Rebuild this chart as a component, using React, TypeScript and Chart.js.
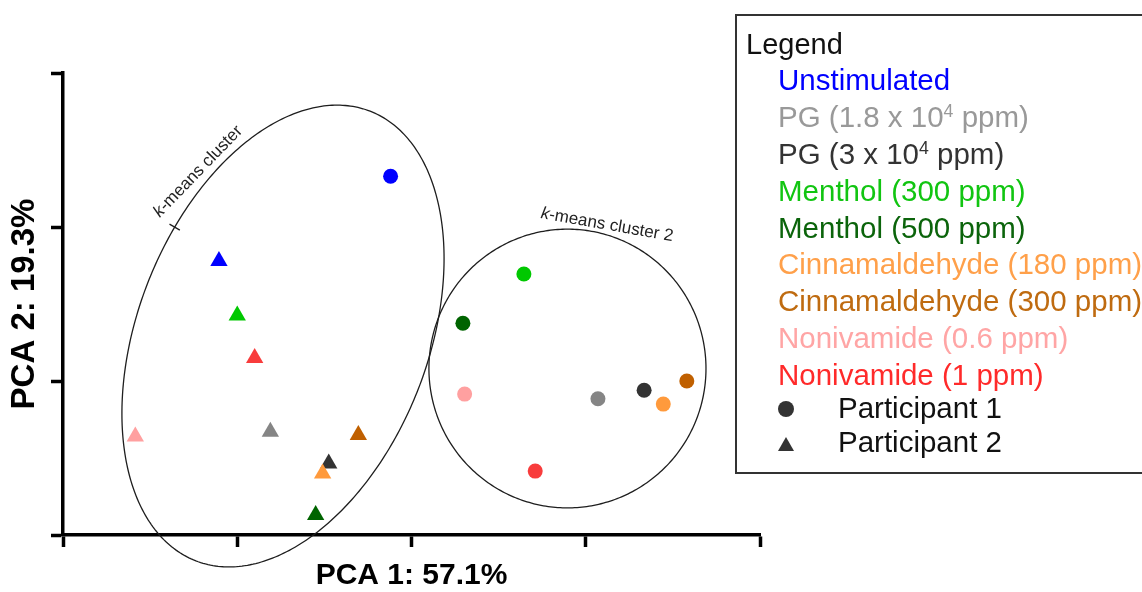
import React, { useEffect, useRef } from 'react';
import { Chart, registerables } from 'chart.js';

Chart.register(...registerables);

// ---------- data ----------
const treatmentLabels = [
  'Unstimulated',
  'PG (1.8 x 10^4 ppm)',
  'PG (3 x 10^4 ppm)',
  'Menthol (300 ppm)',
  'Menthol (500 ppm)',
  'Cinnamaldehyde (180 ppm)',
  'Cinnamaldehyde (300 ppm)',
  'Nonivamide (0.6 ppm)',
  'Nonivamide (1 ppm)',
];
const pointColors = ['#0000FF', '#858585', '#333333', '#00C800', '#006400', '#FF9A3C', '#C06000', '#FFA0A0', '#F83C3C'];
const legendTextColors = ['#0000FF', '#999999', '#333333', '#11C511', '#0B640B', '#FFA04A', '#BF6B10', '#FFA5A5', '#FF2A2A'];

const participantLabels = ['Participant 1', 'Participant 2'];
// Participant 1 (circles)
const participant1X = [-0.24, 2.14, 2.67, 1.29, 0.59, 2.89, 3.16, 0.61, 1.42];
const participant1Y = [2.66, -0.23, -0.12, 1.39, 0.75, -0.3, 0.0, -0.17, -1.17];
// Participant 2 (triangles)
const participant2X = [-2.21, -1.62, -0.95, -2.0, -1.1, -1.02, -0.61, -3.17, -1.8];
const participant2Y = [1.56, -0.66, -1.07, 0.85, -1.74, -1.2, -0.7, -0.72, 0.3];

const xTicks = [-4, -2, 0, 2, 4];
const yTicks = [-2, 0, 2, 4];
const xAxisTitle = 'PCA 1: 57.1%';
const yAxisTitle = 'PCA 2: 19.3%';
const legendTitle = 'Legend';

// k-means cluster ellipses (data units): centre and conjugate semi-axes
const clusterLabels = ['k-means cluster', 'k-means cluster 2'];
const clusterCenterX = [-1.475, 1.79];
const clusterCenterY = [0.584, 0.162];
const clusterAxisU = [[1.0, 2.92], [1.59, 0]];
const clusterAxisV = [[1.555, -0.682], [0, 1.81]];
// label anchors (data units) and rotation
const clusterLabelX = [-2.45, 2.244];
const clusterLabelY = [2.72, 2.026];
const clusterLabelAngle = [-46, 10];

// ---------- styling ----------
const FONT = '"Liberation Sans", Arial, Helvetica, sans-serif';

function ellipsePixel(chart: any, i: number, t: number) {
  const { x, y } = chart.scales;
  const dx = clusterCenterX[i] + clusterAxisU[i][0] * Math.cos(t) + clusterAxisV[i][0] * Math.sin(t);
  const dy = clusterCenterY[i] + clusterAxisU[i][1] * Math.cos(t) + clusterAxisV[i][1] * Math.sin(t);
  return [x.getPixelForValue(dx), y.getPixelForValue(dy)];
}

const clusterPlugin = {
  id: 'clusterEllipses',
  beforeDatasetsDraw(chart: any) {
    const ctx = chart.ctx as CanvasRenderingContext2D;
    const { x, y } = chart.scales;
    ctx.save();
    ctx.strokeStyle = '#1e1e1e';
    ctx.lineWidth = 1.3;
    for (let i = 0; i < clusterCenterX.length; i++) {
      ctx.beginPath();
      const n = 360;
      for (let k = 0; k <= n; k++) {
        const t = (k / n) * Math.PI * 2;
        const [px, py] = ellipsePixel(chart, i, t);
        if (k === 0) ctx.moveTo(px, py);
        else ctx.lineTo(px, py);
      }
      ctx.closePath();
      ctx.stroke();
    }
    // small tick mark on first cluster outline
    const tt = (-75 * Math.PI) / 180;
    const [p0x, p0y] = ellipsePixel(chart, 0, tt);
    const [p1x, p1y] = ellipsePixel(chart, 0, tt + 0.01);
    let tx = p1x - p0x, ty = p1y - p0y;
    const len = Math.hypot(tx, ty);
    tx /= len; ty /= len;
    const nx = -ty, ny = tx;
    ctx.beginPath();
    ctx.moveTo(p0x - nx * 6, p0y - ny * 6);
    ctx.lineTo(p0x + nx * 6, p0y + ny * 6);
    ctx.stroke();

    // labels
    ctx.fillStyle = '#222222';
    for (let i = 0; i < clusterLabels.length; i++) {
      const cx = x.getPixelForValue(clusterLabelX[i]);
      const cy = y.getPixelForValue(clusterLabelY[i]);
      const text = clusterLabels[i];
      ctx.save();
      ctx.translate(cx, cy);
      ctx.rotate((clusterLabelAngle[i] * Math.PI) / 180);
      const italic = `italic 17px ${FONT}`;
      const normal = `17px ${FONT}`;
      ctx.font = italic;
      const wk = ctx.measureText(text[0]).width;
      ctx.font = normal;
      const wr = ctx.measureText(text.slice(1)).width;
      const total = wk + wr;
      ctx.textBaseline = 'middle';
      ctx.textAlign = 'left';
      ctx.font = italic;
      ctx.fillText(text[0], -total / 2, 0);
      ctx.font = normal;
      ctx.fillText(text.slice(1), -total / 2 + wk, 0);
      ctx.restore();
    }
    ctx.restore();
  },
};

function renderLabel(label: string) {
  const idx = label.indexOf('^');
  if (idx < 0) return label;
  return (
    <>
      {label.slice(0, idx)}
      <span style={{ fontSize: '0.6em', position: 'relative', top: '-0.55em', lineHeight: 0 }}>
        {label.slice(idx + 1, idx + 2)}
      </span>
      {label.slice(idx + 2)}
    </>
  );
}

const LEGEND_FS = 29.5;
const BASE_OFF = 24.9; // baseline offset from top for line-height 1

export default function App() {
  const canvasRef = useRef<HTMLCanvasElement | null>(null);

  useEffect(() => {
    if (!canvasRef.current) return;
    const chart = new Chart(canvasRef.current, {
      type: 'scatter',
      data: {
        datasets: [
          {
            label: participantLabels[0],
            data: participant1X.map((v, i) => ({ x: v, y: participant1Y[i] })),
            pointStyle: 'circle',
            pointRadius: 7.5,
            pointBackgroundColor: pointColors,
            pointBorderWidth: 0,
            borderWidth: 0,
          },
          {
            label: participantLabels[1],
            data: participant2X.map((v, i) => ({ x: v, y: participant2Y[i] })),
            pointStyle: 'triangle',
            pointRadius: 10,
            pointBackgroundColor: pointColors,
            pointBorderWidth: 0,
            borderWidth: 0,
          },
        ],
      },
      options: {
        responsive: false,
        animation: false,
        devicePixelRatio: 1,
        layout: { padding: { left: 0, top: 73, right: 382, bottom: 0 } },
        plugins: {
          legend: { display: false },
          tooltip: { enabled: false },
        },
        scales: {
          x: {
            type: 'linear',
            min: xTicks[0],
            max: xTicks[xTicks.length - 1],
            afterBuildTicks: (s: any) => {
              s.ticks = xTicks.map((v) => ({ value: v }));
            },
            afterFit: (s: any) => {
              s.height = 57;
            },
            ticks: { display: false },
            grid: {
              drawOnChartArea: false,
              drawTicks: true,
              tickLength: 12,
              tickWidth: 3.5,
              tickColor: '#000',
            },
            border: { display: true, width: 3.5, color: '#000' },
            title: {
              display: true,
              text: xAxisTitle,
              color: '#000',
              font: { family: FONT, size: 30, weight: 'bold', lineHeight: 1 },
              padding: { top: 0, bottom: 1 },
            },
          },
          y: {
            type: 'linear',
            min: yTicks[0],
            max: yTicks[yTicks.length - 1],
            afterBuildTicks: (s: any) => {
              s.ticks = yTicks.map((v) => ({ value: v }));
            },
            afterFit: (s: any) => {
              s.width = 63;
            },
            ticks: { display: false },
            grid: {
              drawOnChartArea: false,
              drawTicks: true,
              tickLength: 12,
              tickWidth: 3.5,
              tickColor: '#000',
            },
            border: { display: true, width: 3.5, color: '#000' },
            title: {
              display: true,
              text: yAxisTitle,
              color: '#000',
              font: { family: FONT, size: 33, weight: 'bold', lineHeight: 1 },
              padding: { top: 8.5, bottom: 0 },
            },
          },
        },
      } as any,
      plugins: [clusterPlugin],
    });
    return () => chart.destroy();
  }, []);

  const textBase: React.CSSProperties = {
    position: 'absolute',
    fontFamily: FONT,
    fontSize: LEGEND_FS,
    lineHeight: `${LEGEND_FS}px`,
    whiteSpace: 'nowrap',
  };

  return (
    <div
      style={{
        position: 'absolute',
        left: 0,
        top: 0,
        width: 1142,
        height: 592,
        overflow: 'hidden',
        background: '#fff',
      }}
    >
      <canvas ref={canvasRef} width={1142} height={592} style={{ position: 'absolute', left: 0, top: 0 }} />
      <div
        style={{
          position: 'absolute',
          left: 735,
          top: 14,
          width: 480,
          height: 460,
          border: '2px solid #333',
          boxSizing: 'border-box',
        }}
      />
      <div style={{ ...textBase, fontSize: 29, lineHeight: '29px', left: 746, top: 54.5 - 24.5, color: '#111' }}>
        {legendTitle}
      </div>
      {treatmentLabels.map((lab, i) => (
        <div key={lab} style={{ ...textBase, left: 778, top: 90 + i * 36.87 - BASE_OFF, color: legendTextColors[i] }}>
          {renderLabel(lab)}
        </div>
      ))}
      <div
        style={{
          position: 'absolute',
          left: 778,
          top: 401,
          width: 16,
          height: 16,
          borderRadius: '50%',
          background: '#333',
        }}
      />
      <div
        style={{
          position: 'absolute',
          left: 778,
          top: 436.5,
          width: 0,
          height: 0,
          borderLeft: '8px solid transparent',
          borderRight: '8px solid transparent',
          borderBottom: '14px solid #333',
        }}
      />
      <div style={{ ...textBase, left: 838, top: 418 - BASE_OFF, color: '#111' }}>{participantLabels[0]}</div>
      <div style={{ ...textBase, left: 838, top: 452 - BASE_OFF, color: '#111' }}>{participantLabels[1]}</div>
    </div>
  );
}
